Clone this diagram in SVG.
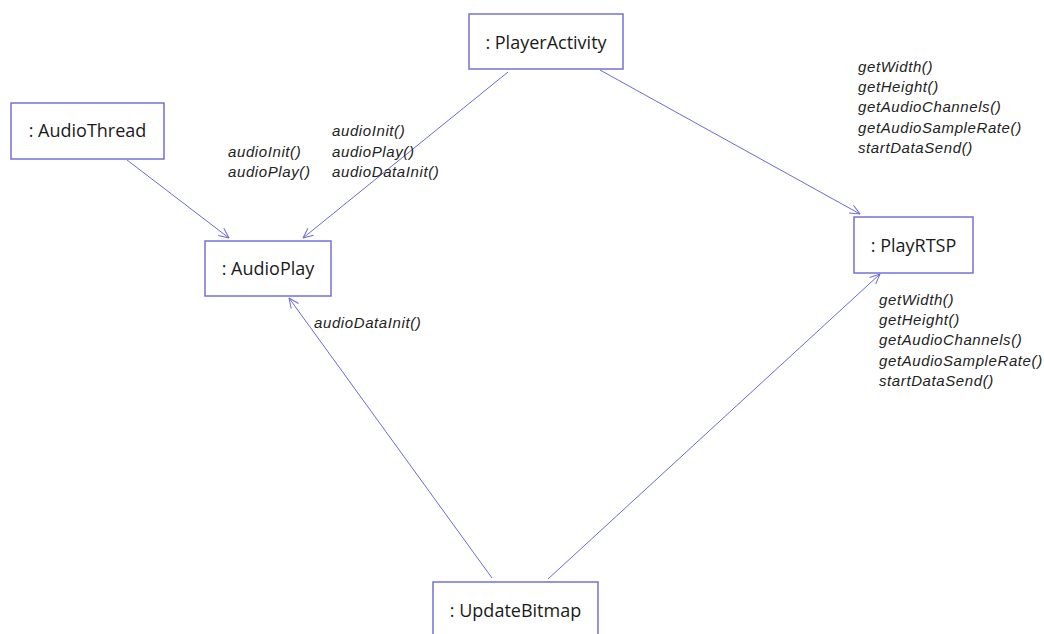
<svg xmlns="http://www.w3.org/2000/svg" width="1044" height="634" viewBox="0 0 1044 634">
<style>
.box{fill:#fff;stroke:#7272d9;stroke-width:1.5}
.name{font-family:"Open Sans","Noto Sans",sans-serif;font-size:18px;fill:#1a1a1a;text-anchor:middle}
.lbl{font-family:"Liberation Sans",Arial,sans-serif;font-size:15px;font-style:italic;fill:#222;letter-spacing:0.6px}
.con{stroke:#6a6ad8;stroke-width:1;fill:none;marker-end:url(#arr)}
</style>
<defs>
<marker id="arr" markerUnits="userSpaceOnUse" viewBox="0 0 11 11" refX="10.5" refY="5.5" markerWidth="11" markerHeight="11" orient="auto">
<path d="M0.5,1 L10.5,5.5 L0.5,10" fill="none" stroke="#6a6ad8" stroke-width="1"/>
</marker>
</defs>
<rect width="1044" height="634" fill="#fff"/>
<g id="connectors">
<line class="con" x1="127" y1="160" x2="229" y2="238"/>
<line class="con" x1="508" y1="72" x2="303" y2="238"/>
<line class="con" x1="600" y1="70" x2="860" y2="214"/>
<line class="con" x1="492" y1="578" x2="289" y2="298"/>
<line class="con" x1="548" y1="579" x2="880" y2="274"/>
</g>
<g id="labels">
<text class="lbl" x="228"><tspan x="228" y="157">audioInit()</tspan><tspan x="228" y="177">audioPlay()</tspan></text>
<text class="lbl" x="332"><tspan x="332" y="136">audioInit()</tspan><tspan x="332" y="157">audioPlay()</tspan><tspan x="332" y="177">audioDataInit()</tspan></text>
<text class="lbl" x="858"><tspan x="858" y="72">getWidth()</tspan><tspan x="858" y="92">getHeight()</tspan><tspan x="858" y="112">getAudioChannels()</tspan><tspan x="858" y="133">getAudioSampleRate()</tspan><tspan x="858" y="153">startDataSend()</tspan></text>
<text class="lbl" x="879"><tspan x="879" y="305">getWidth()</tspan><tspan x="879" y="325">getHeight()</tspan><tspan x="879" y="345">getAudioChannels()</tspan><tspan x="879" y="366">getAudioSampleRate()</tspan><tspan x="879" y="386">startDataSend()</tspan></text>
<text class="lbl" x="314" y="328">audioDataInit()</text>
</g>
<g id="AudioThread">
<rect class="box" x="11" y="103" width="153" height="56"/>
<text class="name" x="87.5" y="137">: AudioThread</text>
</g>
<g id="AudioPlay">
<rect class="box" x="205" y="241" width="126" height="55"/>
<text class="name" x="268" y="275">: AudioPlay</text>
</g>
<g id="PlayerActivity">
<rect class="box" x="469" y="14" width="154" height="55"/>
<text class="name" x="546" y="49">: PlayerActivity</text>
</g>
<g id="PlayRTSP">
<rect class="box" x="854" y="217" width="119" height="56"/>
<text class="name" x="913.5" y="252">: PlayRTSP</text>
</g>
<g id="UpdateBitmap">
<rect class="box" x="433" y="582" width="165" height="60"/>
<text class="name" x="515.5" y="617">: UpdateBitmap</text>
</g>
</svg>
